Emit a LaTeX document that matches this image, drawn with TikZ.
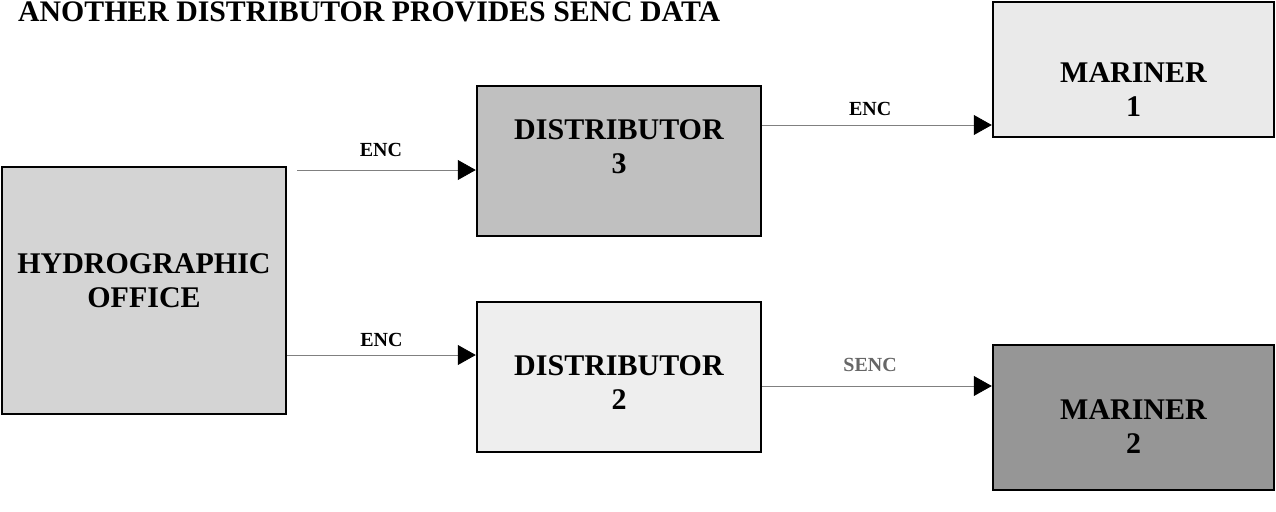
\documentclass[tikz,border=0pt]{standalone}
\usepackage{fontspec}
\setmainfont{Liberation Serif}
\usetikzlibrary{positioning,arrows.meta}
\definecolor{hofill}{HTML}{D4D4D4}
\definecolor{dthree}{HTML}{C0C0C0}
\definecolor{dtwo}{HTML}{EEEEEE}
\definecolor{mone}{HTML}{EAEAEA}
\definecolor{mtwo}{HTML}{969696}
\tikzset{
	box/.style={
		rectangle,
		draw=black,
		line width=2.5pt,
		inner sep=0pt
	},
	boxtext/.style={
		align=center,
		font=\fontsize{30}{34}\selectfont\bfseries
	},
	flow/.style={
		draw=gray,
		line width=0.8pt,
		-{Triangle[length=18pt,width=20pt,color=black]}
	},
	tag/.style={
		font=\fontsize{20}{24}\selectfont\bfseries,
		inner sep=0pt
	}
}

\begin{document}
\begin{tikzpicture}[x=1pt, y=-1pt]
	\useasboundingbox (0,0) rectangle (1276,511);
	\node [anchor=base west, inner sep=0pt, font=\fontsize{29.8}{34}\selectfont\bfseries] (title) at (18,22) {ANOTHER DISTRIBUTOR PROVIDES SENC DATA};

	% boxes
	\node [box, fill=hofill, minimum width=284pt, minimum height=247pt] (ho) at (144,290.5) {};
	\node [box, fill=dthree, minimum width=284pt, minimum height=150pt] (dthr) at (619,161) {};
	\node [box, fill=dtwo, minimum width=284pt, minimum height=150pt] (dtw) at (619,377) {};
	\node [box, fill=mone, minimum width=281pt, minimum height=135pt] (mon) at (1133.5,69.5) {};
	\node [box, fill=mtwo, minimum width=281pt, minimum height=145pt] (mtw) at (1133.5,417.5) {};

	% box texts
	\node [boxtext] (hotext) at (144,280.5) {HYDROGRAPHIC\\OFFICE};
	\node [boxtext] (dthrtext) at (619,146.5) {DISTRIBUTOR\\3};
	\node [boxtext] (dtwtext) at (619,382.5) {DISTRIBUTOR\\2};
	\node [boxtext] (montext) at (1133.5,90) {MARINER\\1};
	\node [boxtext] (mtwtext) at (1133.5,427) {MARINER\\2};

	% flows
	\coordinate (upstart) at (297,170);
	\coordinate (lowstart) at (ho.east |- 0,355);
	\coordinate (encstart) at (dthr.east |- 0,125);
	\coordinate (sencstart) at (dtw.east |- 0,386);
	\draw [flow] (upstart) -- node [tag, above=13pt, pos=0.47] {ENC} (upstart -| dthr.west);
	\draw [flow] (lowstart) -- node [tag, above=7.5pt] {ENC} (lowstart -| dtw.west);
	\draw [flow] (encstart) -- node [tag, above=8.5pt, pos=0.47] {ENC} (encstart -| mon.west);
	\draw [flow] (sencstart) -- node [tag, above=13.5pt, pos=0.47, text=black!60] {SENC} (sencstart -| mtw.west);
\end{tikzpicture}
\end{document}
